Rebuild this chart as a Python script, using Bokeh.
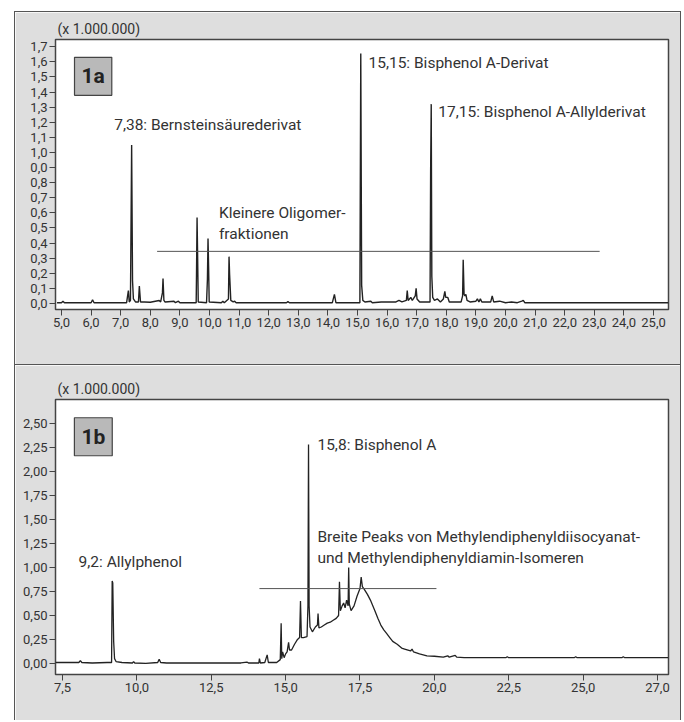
from bokeh.plotting import figure
from bokeh.layouts import column, row
from bokeh.models import FixedTicker, Label, Range1d, Spacer
from bokeh.embed import file_html
from bokeh.resources import INLINE

FONT = "Roboto"
TXT = "#333333"
BG = "#dedede"
LINE = "#222222"

# ---------------- Panel 1a data ----------------
a_ticks_x = [5, 6, 7, 8, 9, 10, 11, 12, 13, 14, 15, 16, 17, 18, 19, 20, 21, 22, 23, 24, 25]
a_labels_x = ["5,0", "6,0", "7,0", "8,0", "9,0", "10,0", "11,0", "12,0", "13,0", "14,0", "15,0",
              "16,0", "17,0", "18,0", "19,0", "20,0", "21,0", "22,0", "23,0", "24,0", "25,0"]
a_ticks_y = [0.0, 0.1, 0.2, 0.3, 0.4, 0.5, 0.6, 0.7, 0.8, 0.9, 1.0, 1.1, 1.2, 1.3, 1.4, 1.5, 1.6, 1.7]
a_labels_y = ["0,0", "0,1", "0,2", "0,3", "0,4", "0,5", "0,6", "0,7", "0,8", "0,0",
              "1,0", "1,1", "1,2", "1,3", "1,4", "1,5", "1,6", "1,7"]

a_time = [4.85, 5.0, 5.05, 5.1, 6.0, 6.05, 6.1, 7.2, 7.26, 7.29, 7.33, 7.37, 7.40, 7.43, 7.5,
          7.6, 7.63, 7.67, 7.8, 8.0, 8.3, 8.35, 8.41, 8.43, 8.46, 8.5, 8.8, 8.85, 8.95, 9.0,
          9.2, 9.55, 9.56, 9.58, 9.60, 9.62, 9.9, 9.93, 9.95, 9.97, 9.99, 10.4, 10.45, 10.5,
          10.64, 10.66, 10.68, 10.72, 10.8, 10.85, 10.9, 11.0, 12.6, 12.65, 12.7, 14.15, 14.22,
          14.27, 14.7, 15.08, 15.11, 15.14, 15.18, 15.25, 15.45, 15.5, 15.8, 16.3, 16.4, 16.5,
          16.65, 16.68, 16.71, 16.8, 16.85, 16.95, 16.98, 17.01, 17.1, 17.3, 17.45, 17.47, 17.49,
          17.51, 17.54, 17.6, 17.7, 17.8, 17.9, 17.95, 17.98, 18.05, 18.1, 18.3, 18.5, 18.55,
          18.57, 18.6, 18.63, 18.66, 18.7, 18.8, 19.0, 19.05, 19.1, 19.15, 19.2, 19.5, 19.55,
          19.6, 19.8, 20.0, 20.2, 20.4, 20.55, 20.6, 20.65, 21.0, 25.5]
a_signal = [0.005, 0.005, 0.015, 0.005, 0.005, 0.025, 0.005, 0.005, 0.085, 0.01, 0.02, 1.05, 0.15,
            0.03, 0.01, 0.01, 0.115, 0.01, 0.01, 0.008, 0.02, 0.01, 0.07, 0.165, 0.02, 0.01, 0.015,
            0.005, 0.015, 0.005, 0.005, 0.005, 0.17, 0.57, 0.30, 0.01, 0.005, 0.16, 0.43, 0.24,
            0.01, 0.005, 0.015, 0.005, 0.03, 0.31, 0.19, 0.02, 0.01, 0.015, 0.005, 0.005, 0.005,
            0.012, 0.005, 0.005, 0.06, 0.005, 0.005, 0.005, 1.655, 0.12, 0.02, 0.01, 0.015, 0.005,
            0.01, 0.01, 0.02, 0.01, 0.02, 0.085, 0.02, 0.04, 0.02, 0.05, 0.10, 0.03, 0.01, 0.01,
            0.01, 0.88, 1.32, 0.18, 0.04, 0.02, 0.03, 0.01, 0.03, 0.08, 0.04, 0.04, 0.01, 0.01,
            0.01, 0.05, 0.29, 0.06, 0.05, 0.06, 0.02, 0.01, 0.015, 0.03, 0.01, 0.03, 0.01, 0.01,
            0.05, 0.01, 0.015, 0.005, 0.01, 0.005, 0.015, 0.02, 0.005, 0.005, 0.005]
a_bracket_x = [8.23, 23.18]
a_bracket_y = [0.345, 0.345]

# ---------------- Panel 1b data ----------------
b_ticks_x = [7.5, 10.0, 12.5, 15.0, 17.5, 20.0, 22.5, 25.0, 27.5]
b_labels_x = ["7,5", "10,0", "12,5", "15,0", "17,5", "20,0", "22,5", "25,0", "27,0"]
b_ticks_y = [0.0, 0.25, 0.5, 0.75, 1.0, 1.25, 1.5, 1.75, 2.0, 2.25, 2.5]
b_labels_y = ["0,00", "0,25", "0,50", "0,75", "1,00", "1,25", "1,50", "1,75", "2,00", "2,25", "2,50"]

b_time = [7.27, 7.5, 8.05, 8.1, 8.15, 8.5, 9.0, 9.15, 9.17, 9.19, 9.22, 9.25, 9.3, 9.5, 9.85,
          9.89, 9.93, 10.3, 10.7, 10.75, 10.8, 11.0, 13.5, 13.7, 13.75, 14.1, 14.12, 14.15, 14.3,
          14.38, 14.42, 14.7, 14.82, 14.85, 14.87, 14.9, 14.95, 15.0, 15.05, 15.1, 15.13, 15.2,
          15.3, 15.4, 15.47, 15.5, 15.53, 15.6, 15.72, 15.75, 15.77, 15.79, 15.82, 15.9, 16.0,
          16.07, 16.09, 16.12, 16.2, 16.3, 16.4, 16.5, 16.6, 16.7, 16.78, 16.81, 16.84, 16.9,
          16.95, 17.0, 17.05, 17.1, 17.12, 17.14, 17.2, 17.3, 17.4, 17.5, 17.54, 17.58, 17.65,
          17.75, 17.85, 18.0, 18.1, 18.2, 18.3, 18.4, 18.5, 18.6, 18.75, 18.9, 19.0, 19.2, 19.25,
          19.3, 19.5, 19.75, 20.0, 20.3, 20.45, 20.5, 20.7, 20.75, 21.0, 22.4, 22.45, 22.5, 24.7,
          24.75, 24.8, 26.3, 26.35, 26.4, 27.86]
b_signal = [0.01, 0.01, 0.01, 0.03, 0.01, 0.005, 0.01, 0.01, 0.86, 0.84, 0.23, 0.05, 0.02, 0.01,
            0.005, 0.02, 0.005, 0.0, 0.01, 0.045, 0.01, 0.005, 0.005, 0.015, 0.005, 0.005, 0.05,
            0.005, 0.01, 0.09, 0.01, 0.01, 0.04, 0.42, 0.05, 0.12, 0.06, 0.10, 0.12, 0.22, 0.14,
            0.14, 0.20, 0.25, 0.27, 0.65, 0.27, 0.27, 0.28, 0.60, 2.28, 0.60, 0.38, 0.33, 0.38,
            0.40, 0.52, 0.37, 0.38, 0.40, 0.42, 0.43, 0.45, 0.47, 0.50, 0.85, 0.55, 0.60, 0.63,
            0.58, 0.66, 0.60, 1.00, 0.62, 0.55, 0.60, 0.70, 0.78, 0.90, 0.80, 0.77, 0.72, 0.66,
            0.55, 0.47, 0.40, 0.35, 0.31, 0.27, 0.23, 0.20, 0.16, 0.15, 0.13, 0.15, 0.12, 0.10,
            0.08, 0.075, 0.065, 0.08, 0.065, 0.085, 0.065, 0.06, 0.06, 0.07, 0.06, 0.06, 0.07,
            0.06, 0.06, 0.07, 0.06, 0.06]
b_bracket_x = [14.12, 20.07]
b_bracket_y = [0.78, 0.78]


def style(p, ticks_x, labels_x, ticks_y, labels_y):
    p.background_fill_color = "white"
    p.border_fill_color = BG
    p.outline_line_color = "#444444"
    p.outline_line_width = 1.5
    p.grid.visible = False
    p.title.text = "(x 1.000.000)"
    p.title.align = "left"
    p.title.text_font = FONT
    p.title.text_font_size = "14px"
    p.title.text_font_style = "normal"
    p.title.text_color = TXT
    p.title.standoff = 6
    p.title.offset = 2
    p.xaxis.ticker = FixedTicker(ticks=ticks_x)
    p.xaxis.major_label_overrides = {t: l for t, l in zip(ticks_x, labels_x)}
    p.yaxis.ticker = FixedTicker(ticks=ticks_y)
    p.yaxis.major_label_overrides = {t: l for t, l in zip(ticks_y, labels_y)}
    for ax in (p.xaxis[0], p.yaxis[0]):
        ax.axis_line_color = None
        ax.major_tick_line_color = "#444444"
        ax.major_tick_line_width = 1
        ax.major_tick_out = 6
        ax.major_tick_in = 0
        ax.minor_tick_line_color = None
        ax.major_label_text_font = FONT
        ax.major_label_text_font_size = "13px"
        ax.major_label_text_color = TXT
        ax.major_label_standoff = 2


def note(p, x, y, text, size="15.5px"):
    p.add_layout(Label(x=x, y=y, text=text, text_font=FONT, text_font_size=size,
                       text_color=TXT, text_baseline="middle", text_align="left"))


def badge(p, x, y, text):
    p.add_layout(Label(x=x, y=y, text=text, anchor="top_left", text_font=FONT,
                       text_font_size="21px", text_font_style="bold", text_color="#222222",
                       background_fill_color="#b9b9b9", border_line_color="#444444",
                       border_line_width=1.2, padding=7))


# ---------------- Figure 1a ----------------
p1 = figure(width=665, height=352, output_backend="svg", toolbar_location=None,
            x_range=Range1d(4.798, 25.505), y_range=Range1d(-0.04, 1.748),
            min_border_left=40, min_border_right=10, min_border_top=27, min_border_bottom=55)
style(p1, a_ticks_x, a_labels_x, a_ticks_y, a_labels_y)
p1.line(a_time, a_signal, line_color=LINE, line_width=1.4)
p1.line(a_bracket_x, a_bracket_y, line_color="#555555", line_width=1)
note(p1, 6.78, 1.18, "7,38: Bernsteinsäurederivat")
note(p1, 15.37, 1.59, "15,15: Bisphenol A-Derivat")
note(p1, 17.73, 1.265, "17,15: Bisphenol A-Allylderivat")
note(p1, 10.32, 0.596, "Kleinere Oligomer-")
note(p1, 10.32, 0.457, "fraktionen")
badge(p1, 5.44, 1.63, "1a")

# ---------------- Figure 1b ----------------
p2 = figure(width=665, height=356, output_backend="svg", toolbar_location=None,
            x_range=Range1d(7.265, 27.87), y_range=Range1d(-0.115, 2.75),
            min_border_left=40, min_border_right=12, min_border_top=34, min_border_bottom=47)
style(p2, b_ticks_x, b_labels_x, b_ticks_y, b_labels_y)
p2.line(b_time, b_signal, line_color=LINE, line_width=1.3)
p2.line(b_bracket_x, b_bracket_y, line_color="#555555", line_width=1)
note(p2, 8.04, 1.06, "9,2: Allylphenol")
note(p2, 16.07, 2.28, "15,8: Bisphenol A")
note(p2, 16.07, 1.32, "Breite Peaks von Methylendiphenyldiisocyanat-")
note(p2, 16.07, 1.10, "und Methylendiphenyldiamin-Isomeren")
badge(p2, 7.9, 2.56, "1b")

p2.styles = {"border-top": "1.5px solid #555555"}
panels = column(p1, p2, spacing=0,
                styles={"border-left": "1.5px solid #555555",
                        "border-right": "1.5px solid #555555",
                        "border-top": "1.5px solid #555555"})
layout = column(Spacer(height=11), row(Spacer(width=14), panels, spacing=0), spacing=0)

open("out.html", "w").write(file_html(layout, INLINE))
